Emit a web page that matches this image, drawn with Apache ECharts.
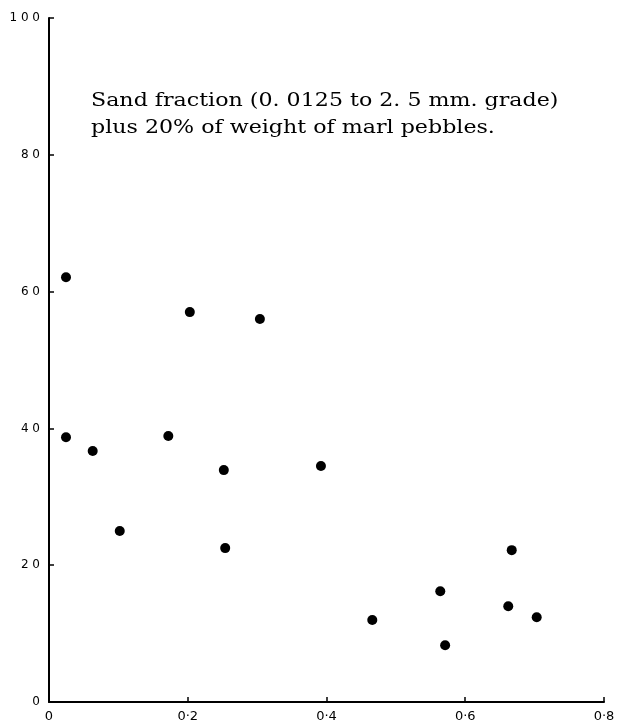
<!DOCTYPE html>
<html>
<head>
<meta charset="utf-8">
<script src="https://cdn.jsdelivr.net/npm/echarts@6/dist/echarts.min.js"></script>
<style>html,body{margin:0;padding:0;background:#fff;}#c{width:626px;height:727px;}</style>
</head>
<body>
<div id="c"></div>
<script>
// Data (x = ratio, y = percent)
var xValues = [0.0245, 0.0245, 0.063, 0.102, 0.172, 0.203, 0.252, 0.254, 0.304, 0.392, 0.466, 0.564, 0.571, 0.667, 0.662, 0.703];
var yValues = [62.1, 38.7, 36.7, 25.0, 38.9, 57.0, 33.9, 22.5, 56.0, 34.5, 12.0, 16.2, 8.3, 22.2, 14.0, 12.4];
var xTickLabels = ['0', '0·2', '0·4', '0·6', '0·8'];
var yTickLabels = ['0', '2 0', '4 0', '6 0', '8 0', '1 0 0'];
var noteLines = ['Sand fraction (0. 0125 to 2. 5 mm. grade)', 'plus 20% of weight of marl pebbles.'];

var points = xValues.map(function (x, i) { return [x, yValues[i]]; });

var chart = echarts.init(document.getElementById('c'));
chart.setOption({
  animation: false,
  backgroundColor: '#fff',
  grid: { left: 49, right: 22, top: 18, bottom: 25, containLabel: false },
  xAxis: {
    type: 'value', min: 0, max: 0.8, interval: 0.2,
    axisLine: { show: true, lineStyle: { color: '#000', width: 2 } },
    axisTick: { show: true, inside: true, length: 5, lineStyle: { color: '#000', width: 1.5 } },
    splitLine: { show: false },
    axisLabel: {
      color: '#000', fontFamily: 'DejaVu Sans', fontSize: 13, margin: 8,
      formatter: function (v) { return xTickLabels[Math.round(v / 0.2)]; }
    }
  },
  yAxis: {
    type: 'value', min: 0, max: 100, interval: 20,
    axisLine: { show: true, lineStyle: { color: '#000', width: 2 } },
    axisTick: { show: true, inside: true, length: 5, lineStyle: { color: '#000', width: 1.5 } },
    splitLine: { show: false },
    axisLabel: {
      color: '#000', fontFamily: 'DejaVu Sans', fontSize: 12, margin: 9,
      formatter: function (v) { return yTickLabels[Math.round(v / 20)]; }
    }
  },
  series: [{
    type: 'scatter',
    data: points,
    symbol: 'circle',
    symbolSize: 10,
    itemStyle: { color: '#000', opacity: 1 },
    emphasis: { disabled: true }
  }],
  graphic: [{
    type: 'text', x: 91, y: 88,
    scaleX: 1.23,
    style: {
      text: noteLines.join('\n'),
      font: '18px "DejaVu Serif"',
      lineHeight: 27,
      fill: '#000'
    }
  }]
});
</script>
</body>
</html>
